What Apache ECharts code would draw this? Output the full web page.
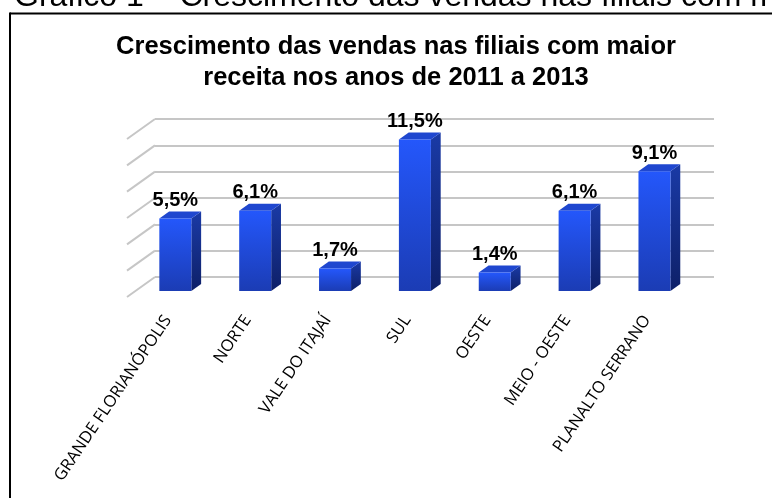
<!DOCTYPE html>
<html>
<head>
<meta charset="utf-8">
<script src="https://cdn.jsdelivr.net/npm/echarts@6/dist/echarts.min.js"></script>
<style>html,body{margin:0;padding:0;background:#fff;}#c{width:772px;height:498px;}</style>
</head>
<body>
<div id="c"></div>
<script>
var categories = ['GRANDE FLORIANÓPOLIS', 'NORTE', 'VALE DO ITAJAÍ', 'SUL', 'OESTE', 'MEIO - OESTE', 'PLANALTO SERRANO'];
var values = [5.5, 6.1, 1.7, 11.5, 1.4, 6.1, 9.1];
var valueLabels = ['5,5%', '6,1%', '1,7%', '11,5%', '1,4%', '6,1%', '9,1%'];
var gridTicks = [0, 2, 4, 6, 8, 10, 12];

var chart = echarts.init(document.getElementById('c'), null, {renderer: 'canvas'});

// depth geometry (pixels)
var FLOOR_DX = -28, FLOOR_DY = 20;
var BAR_FRONT = 0.7, BAR_BACK = 0.35, BAR_W = 32;

function renderBar(params, api) {
  var i = api.value(0), v = api.value(1);
  var top = api.coord([i, v]);
  var base = api.coord([i, 0]);
  var fx = top[0] + FLOOR_DX * BAR_FRONT - BAR_W / 2;
  var fyTop = top[1] + FLOOR_DY * BAR_FRONT;
  var fyBot = base[1] + FLOOR_DY * BAR_FRONT;
  var dx = FLOOR_DX * (BAR_BACK - BAR_FRONT);
  var dy = FLOOR_DY * (BAR_BACK - BAR_FRONT);
  var x1 = fx, x2 = fx + BAR_W;
  return {
    type: 'group',
    children: [
      { type: 'polygon', shape: { points: [[x2, fyTop], [x2 + dx, fyTop + dy], [x2 + dx, fyBot + dy], [x2, fyBot]] },
        style: { fill: new echarts.graphic.LinearGradient(0, 0, 0, 1, [{offset: 0, color: '#1a3aa6'}, {offset: 1, color: '#0e2068'}]) } },
      { type: 'polygon', shape: { points: [[x1, fyTop], [x1 + dx, fyTop + dy], [x2 + dx, fyTop + dy], [x2, fyTop]] },
        style: { fill: '#1f47cf' } },
      { type: 'rect', shape: { x: x1, y: fyTop, width: BAR_W, height: fyBot - fyTop },
        style: { fill: new echarts.graphic.LinearGradient(0, 0, 0, 1, [{offset: 0, color: '#2457fb'}, {offset: 1, color: '#1b3cb4'}]) } },
      { type: 'text', style: { text: valueLabels[params.dataIndex], x: (x1 + x2) / 2, y: fyTop + dy - 1,
        align: 'center', verticalAlign: 'bottom', font: 'bold 20px "Liberation Sans", Arial, sans-serif', fill: '#000' } }
    ]
  };
}

function renderWall(params, api) {
  var v = api.value(0);
  var p = api.coord([0, v]);
  var x0 = params.coordSys.x;
  return { type: 'line', shape: { x1: x0, y1: p[1], x2: x0 + FLOOR_DX, y2: p[1] + FLOOR_DY },
    style: { stroke: '#c6c6c6', lineWidth: 2 } };
}

var option = {
  backgroundColor: '#fff',
  animation: false,
  title: {
    text: 'Crescimento das vendas nas filiais com maior\nreceita nos anos de 2011 a 2013',
    left: 391, top: 26, textAlign: 'center',
    textStyle: { fontFamily: '"Liberation Sans", Arial, sans-serif', fontWeight: 'bold', fontSize: 25.5, lineHeight: 31, color: '#000' }
  },
  graphic: [
    { type: 'text', left: 14, top: -19, style: { text: 'Gráfico 1 – Crescimento das vendas nas filiais com maior receita', font: '32px "Liberation Sans", Arial, sans-serif', fill: '#000' } },
    { type: 'line', shape: { x1: 10, y1: 13.5, x2: 772, y2: 13.5 }, style: { stroke: '#000', lineWidth: 2 } },
    { type: 'line', shape: { x1: 10, y1: 12.5, x2: 10, y2: 498 }, style: { stroke: '#000', lineWidth: 2 } }
  ],
  grid: [
    { left: 155, right: 58, top: 119, bottom: 221 },
    { left: 128, right: 85, top: 139, bottom: 201 }
  ],
  xAxis: [
    { type: 'category', gridIndex: 0, data: categories, axisLine: {show: false}, axisTick: {show: false}, axisLabel: {show: false} },
    { type: 'category', gridIndex: 1, data: categories, axisLine: {show: false}, axisTick: {show: false},
      axisLabel: { interval: 0, rotate: 56, margin: 20, fontFamily: '"Open Sans", sans-serif', fontSize: 16.5, color: '#000' } }
  ],
  yAxis: [
    { type: 'value', gridIndex: 0, min: 0, max: 12, interval: 2, axisLabel: {show: false}, axisLine: {show: false}, axisTick: {show: false},
      splitLine: { show: true, lineStyle: { color: '#c6c6c6', width: 2 } } },
    { type: 'value', gridIndex: 1, min: 0, max: 12, interval: 2, show: false, splitLine: {show: false} }
  ],
  series: [
    { type: 'custom', xAxisIndex: 0, yAxisIndex: 0, renderItem: renderWall, data: gridTicks.map(function (t) { return [t]; }), encode: {y: 0}, silent: true },
    { type: 'custom', xAxisIndex: 0, yAxisIndex: 0, renderItem: renderBar, data: values.map(function (v, i) { return [i, v]; }), encode: {x: 0, y: 1} }
  ]
};
chart.setOption(option);
</script>
</body>
</html>
